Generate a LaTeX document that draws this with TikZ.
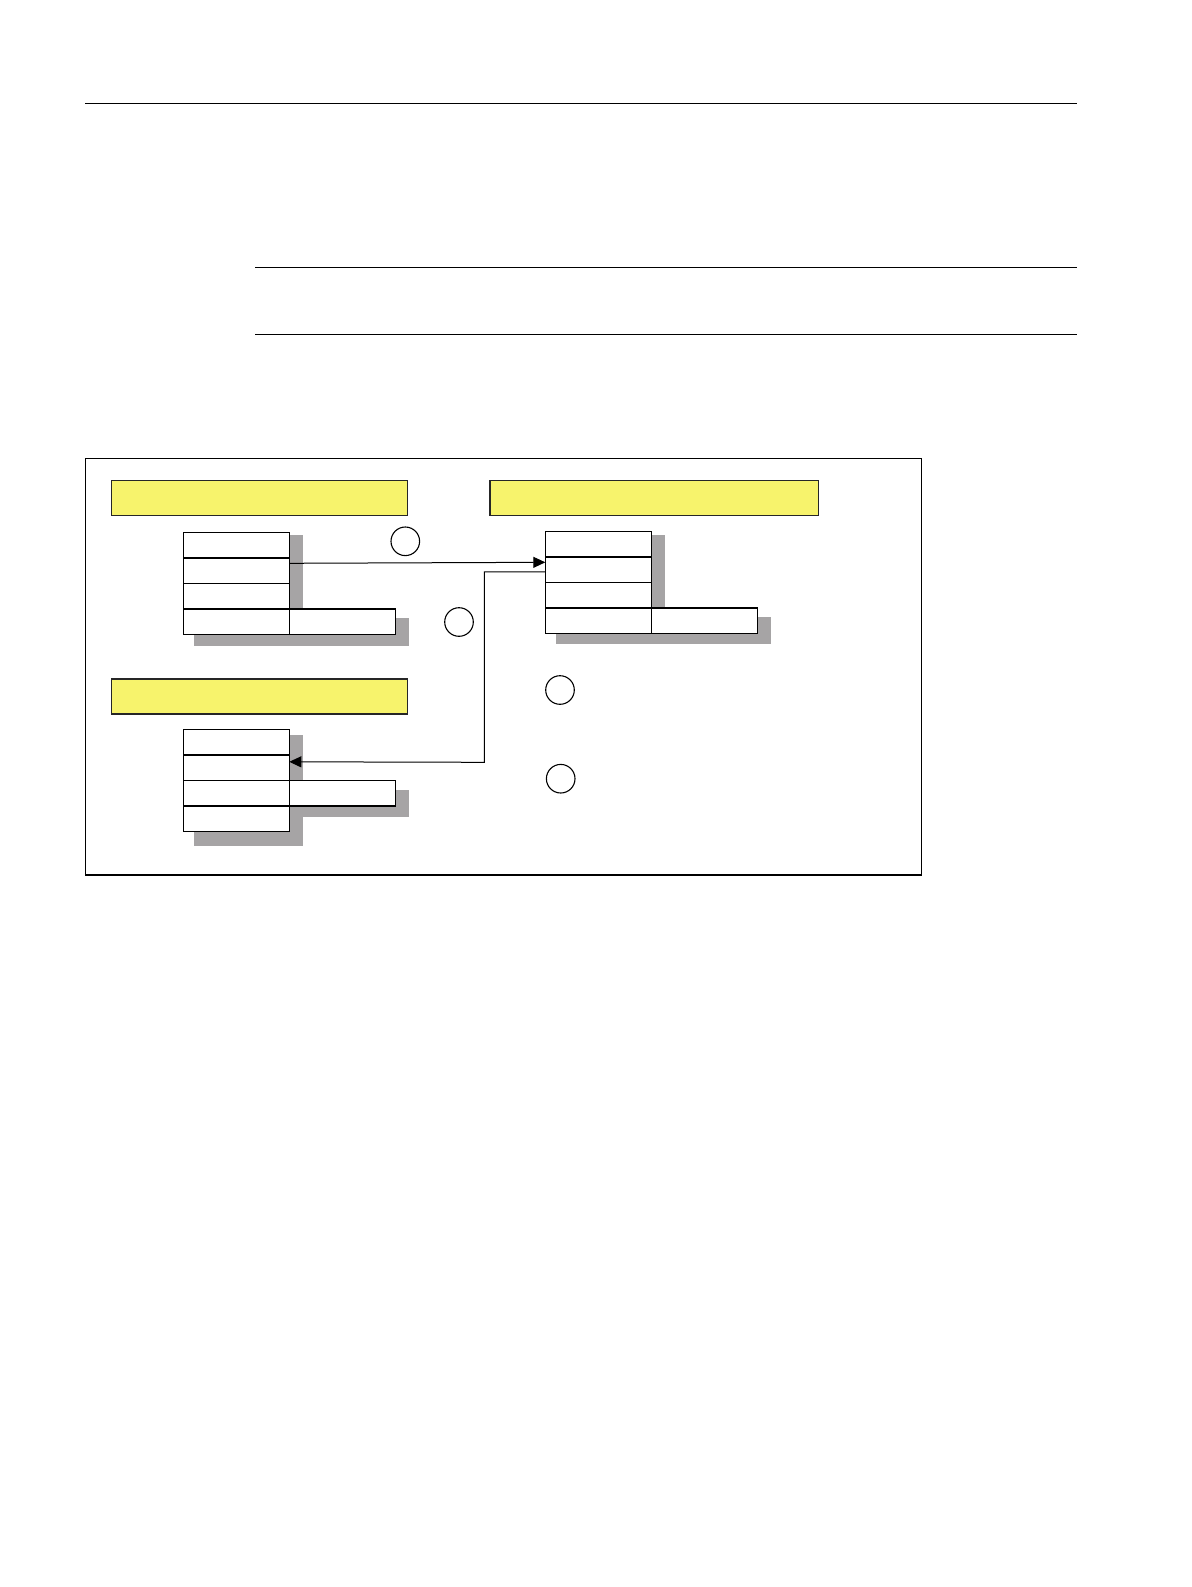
\documentclass[tikz,border=0pt]{standalone}
\usetikzlibrary{arrows.meta}
\definecolor{bary}{RGB}{247,243,108}
\definecolor{shad}{RGB}{166,164,165}
\tikzset{
  cell/.style={draw=black, fill=white, line width=1.5pt, rectangle, inner sep=0pt, outer sep=0pt,
    minimum width=106pt, minimum height=25.5pt},
  bar/.style={draw=black!85, fill=bary, line width=1.5pt},
  shadowbox/.style={fill=shad, draw=none},
  mark circle/.style={draw=black, line width=1.1pt, circle, minimum size=28.6pt, inner sep=0pt},
  rule/.style={line width=1.3pt, draw=black},
  conn/.style={line width=1pt, draw=black, -{Triangle[length=12pt,width=11pt]}},
}
\begin{document}
\begin{tikzpicture}[x=1pt,y=-1pt]
\useasboundingbox[fill=white] (0,0) rectangle (1191,1587);
% header rules
\draw[rule] (85,103.3) -- (1076.7,103.3);
\draw[rule] (255,267.3) -- (1076.7,267.3);
\draw[rule] (255,334.3) -- (1076.7,334.3);
% outer frame
\draw[line width=1.6pt] (85.3,458.3) rectangle (921.3,874.7);
% yellow bars
\draw[bar] (111.3,480.3) rectangle (407.7,515.3);
\draw[bar] (490,480.7) rectangle (818.3,515.3);
\draw[bar] (111.3,679) rectangle (407.3,714);
% shadows
\fill[shadowbox] (194,535) rectangle (302.7,645.7);
\fill[shadowbox] (290,617.7) rectangle (409,645.7);
\fill[shadowbox] (556,535) rectangle (665,644.3);
\fill[shadowbox] (652,616.7) rectangle (771,644.3);
\fill[shadowbox] (194.3,735.3) rectangle (302.7,845.7);
\fill[shadowbox] (290,790) rectangle (409,817.3);
% table A
\node[cell, anchor=north west] (a1) at (183.3,532.3) {};
\node[cell, anchor=north] (a2) at (a1.south) {};
\node[cell, anchor=north] (a3) at (a2.south) {};
\node[cell, anchor=north] (a4) at (a3.south) {};
\node[cell, anchor=west] (ae) at (a4.east) {};
% table B
\node[cell, anchor=north west] (b1) at (545.3,531.3) {};
\node[cell, anchor=north] (b2) at (b1.south) {};
\node[cell, anchor=north] (b3) at (b2.south) {};
\node[cell, anchor=north] (b4) at (b3.south) {};
\node[cell, anchor=west] (be) at (b4.east) {};
% table C
\node[cell, anchor=north west] (c1) at (183.3,729.7) {};
\node[cell, anchor=north] (c2) at (c1.south) {};
\node[cell, anchor=north] (c3) at (c2.south) {};
\node[cell, anchor=north] (c4) at (c3.south) {};
\node[cell, anchor=west] (ce) at (c3.east) {};
% markers
\node[mark circle] (m1) at (405.3,541.3) {};
\node[mark circle] (m2) at (459,622) {};
\node[mark circle] (m3) at (560,690) {};
\node[mark circle] (m4) at (560.7,778.7) {};
% connectors
\draw[conn] ([yshift=-5.5pt]a2.north east) -- ([yshift=-5.5pt]b2.north west);
\coordinate (k) at (484.3,762.3);
\draw[conn] ([yshift=-15pt]b2.north west) -| (k) -- ([yshift=-6.6pt]c2.north east);
\end{tikzpicture}
\end{document}
